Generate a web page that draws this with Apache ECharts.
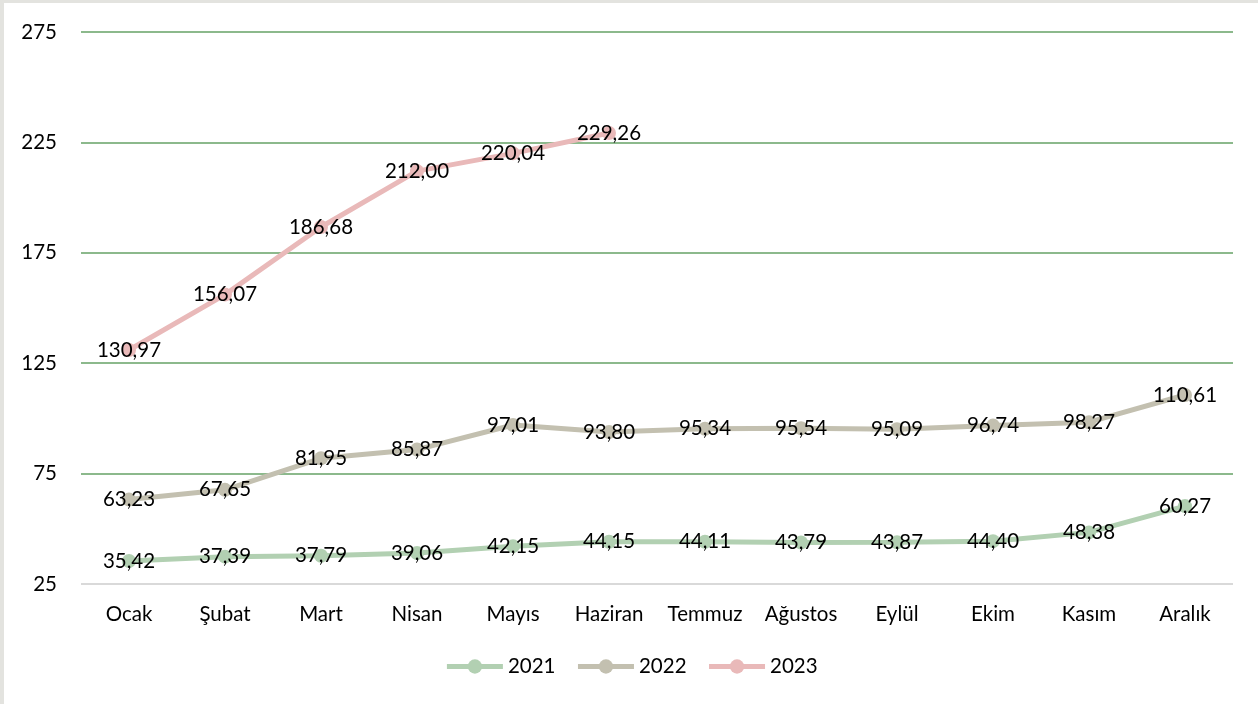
<!DOCTYPE html>
<html><head><meta charset="utf-8">
<script src="https://cdn.jsdelivr.net/npm/echarts@6/dist/echarts.min.js"></script>
<style>
html,body{margin:0;padding:0;background:#e3e3df;width:1258px;height:704px;overflow:hidden}
#c{position:absolute;left:4px;top:3px;width:1254px;height:701px;background:#fff}
</style></head><body><div id="c"></div>
<script>
const months = ['Ocak','Şubat','Mart','Nisan','Mayıs','Haziran','Temmuz','Ağustos','Eylül','Ekim','Kasım','Aralık'];
const y2021 = [35.42,37.39,37.79,39.06,42.15,44.15,44.11,43.79,43.87,44.40,48.38,60.27];
const y2022 = [63.23,67.65,81.95,85.87,97.01,93.80,95.34,95.54,95.09,96.74,98.27,110.61];
const y2023 = [130.97,156.07,186.68,212.00,220.04,229.26];
const seriesNames = ['2021','2022','2023'];
const colors = ['#b2d0b2','#c3c0b0','#e9b9b9'];
const FONT = 'Lato';
const FS = 20.5;
const chart = echarts.init(document.getElementById('c'));
function mk(name, data, color){
  return {
    name, type:'line', data, color,
    symbol:'circle', symbolSize:14,
    lineStyle:{width:5,color},
    itemStyle:{color},
    label:{show:true, position:'inside', color:'#000', fontSize:FS, fontFamily:FONT,
      formatter:p=>p.value.toFixed(2).replace('.',',')},
    emphasis:{disabled:true}, animation:false
  };
}
chart.setOption({
  animation:false,
  textStyle:{fontFamily:FONT},
  grid:{left:77,right:25,top:29,bottom:120},
  xAxis:{type:'category',data:months,boundaryGap:true,
    axisLine:{show:false},axisTick:{show:false},
    axisLabel:{color:'#000',fontSize:FS,fontFamily:FONT,margin:20,interval:0}},
  yAxis:{type:'value',min:25,max:275,interval:50,
    axisLine:{show:false},axisTick:{show:false},
    axisLabel:{color:'#000',fontSize:FS,fontFamily:FONT,margin:24},
    splitLine:{lineStyle:{color:['#d9d9d9','#8cb98c','#8cb98c','#8cb98c','#8cb98c','#8cb98c'],width:2}}},
  legend:{bottom:22,left:'center',itemWidth:56,itemHeight:18,itemGap:20,
    lineStyle:{width:5},
    textStyle:{color:'#000',fontSize:FS,fontFamily:FONT},data:seriesNames},
  series:[mk('2021',y2021,colors[0]),mk('2022',y2022,colors[1]),mk('2023',y2023,colors[2])]
});
</script></body></html>
